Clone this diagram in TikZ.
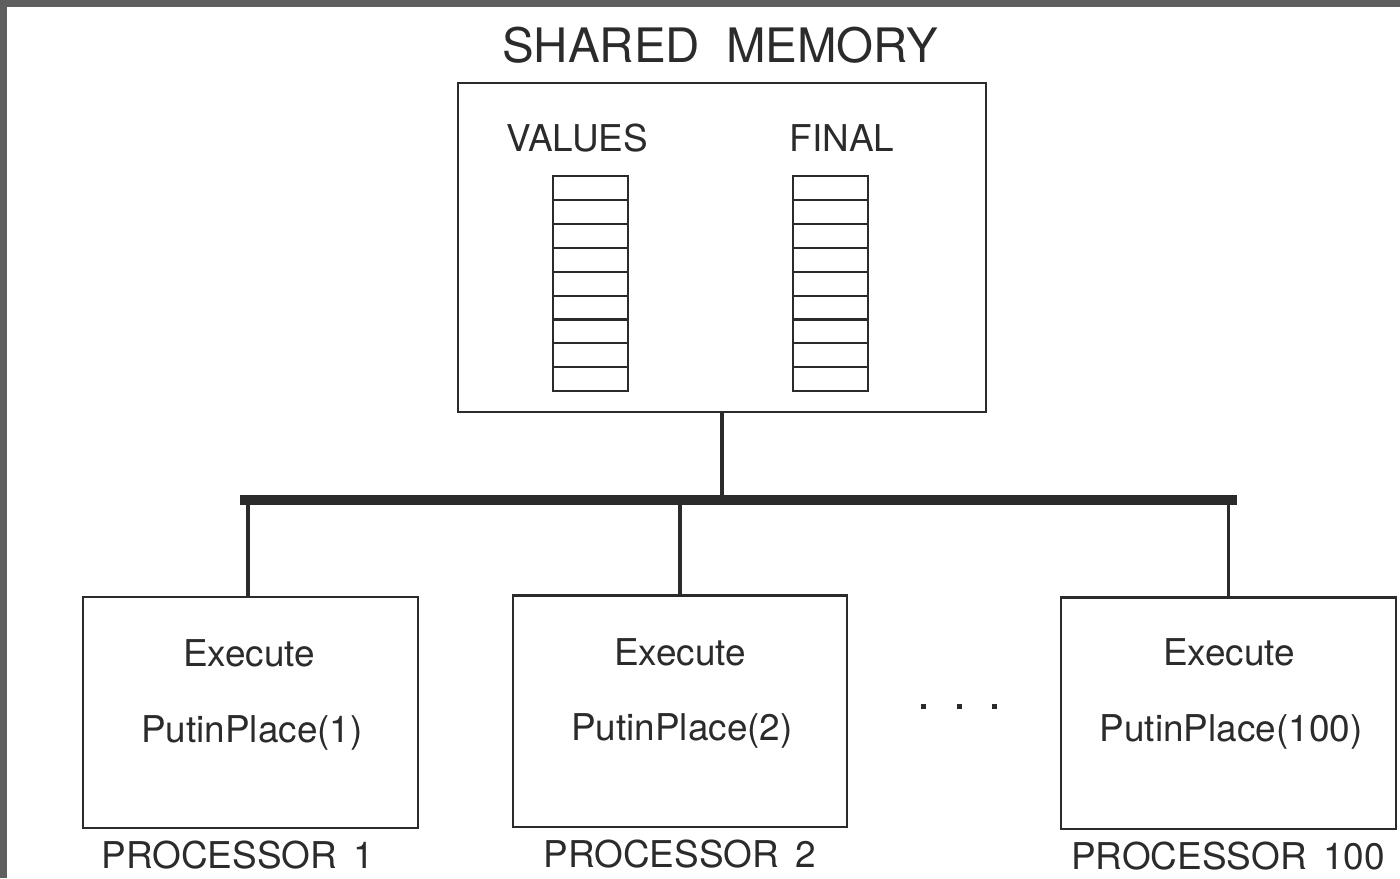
\documentclass[tikz,border=0pt]{standalone}
\usepackage{fontspec}
\setmainfont{TeX Gyre Heros}
\usetikzlibrary{positioning}
\definecolor{framegrey}{HTML}{5F5F5F}
\definecolor{ink}{HTML}{2B2B2B}
\tikzset{
	boxnode/.style = {
		align=center,
		inner sep=0pt,
		text centered,
		text=ink,
		font=\fontsize{10.5}{12}\selectfont
	},
	node_mem/.style = {
		boxnode,
		rectangle,
		draw=ink,
		line width=0.6pt,
		minimum width=5.28cm,
		minimum height=3.29cm
	},
	node_cell/.style = {
		boxnode,
		rectangle,
		draw=ink,
		line width=0.6pt,
		anchor=north,
		minimum width=0.75cm,
		minimum height=0.239cm
	},
	node_proc/.style = {
		boxnode,
		rectangle,
		draw=ink,
		line width=0.6pt,
		minimum width=3.34cm,
		minimum height=2.31cm
	},
	node_title/.style = {
		boxnode,
		font=\fontsize{13.5}{16}\selectfont
	},
	node_dot/.style = {
		rectangle,
		fill=ink,
		inner sep=0pt,
		minimum size=0.05cm
	},
	bus/.style = {
		draw=ink,
		line width=2.8pt
	},
	link/.style = {
		draw=ink,
		line width=0.9pt
	},
}

\begin{document}
\begin{tikzpicture}[x=0.01cm, y=-0.01cm]
\useasboundingbox (0,0) rectangle (1400,878);
\fill[framegrey] (0,0) rectangle (1400,878);
\fill[white] (7,7) rectangle (1400,878);

% shared memory
\node [node_title] (title) at (720,45) {SHARED\hspace{0.55em}MEMORY};
\node [node_mem] (mem) at (722,247.5) {};
\node [boxnode] (values) at (577,138) {VALUES};
\node [boxnode] (final) at (842,138) {FINAL};
\foreach \i in {1,...,9} {
	\node [node_cell] (v\i) at (590.5,{175+(\i-1)*23.9}) {};
	\node [node_cell] (f\i) at (830.5,{175+(\i-1)*23.9}) {};
}

% bus
\coordinate (busL) at (240,500);
\coordinate (busR) at (1237,500);
\draw [bus] (busL) -- (busR);
\draw [link] (mem.south) -- (mem.south |- busL);

% processors
\node [node_proc] (p1) at (250.5,712.5) {};
\node [node_proc] (p2) at (680,711) {};
\node [node_proc] (p3) at (1228.5,713) {};

\node [boxnode] (e1) at (249,653) {Execute};
\node [boxnode] (e2) at (680,652) {Execute};
\node [boxnode] (e3) at (1229,652) {Execute};
\node [boxnode] (c1) at (252,733) {PutinPlace(1)};
\node [boxnode] (c2) at (682,731) {PutinPlace(2)};
\node [boxnode] (c3) at (1231,732) {PutinPlace(100)};

\node [boxnode] (l1) at (238,855) {PROCESSOR\ \,1};
\node [boxnode] (l2) at (680,854) {PROCESSOR\ \,2};
\node [boxnode] (l3) at (1228,856) {PROCESSOR\ \,100};

\draw [link] (p1.north -| 248,0) |- (busL);
\draw [link] (p2.north) -- (p2.north |- busL);
\draw [link] (p3.north) -- (p3.north |- busR);

\node [node_dot] (d1) at (923,706) {};
\node [node_dot] (d2) at (959,706) {};
\node [node_dot] (d3) at (994,706) {};
\end{tikzpicture}
\end{document}
